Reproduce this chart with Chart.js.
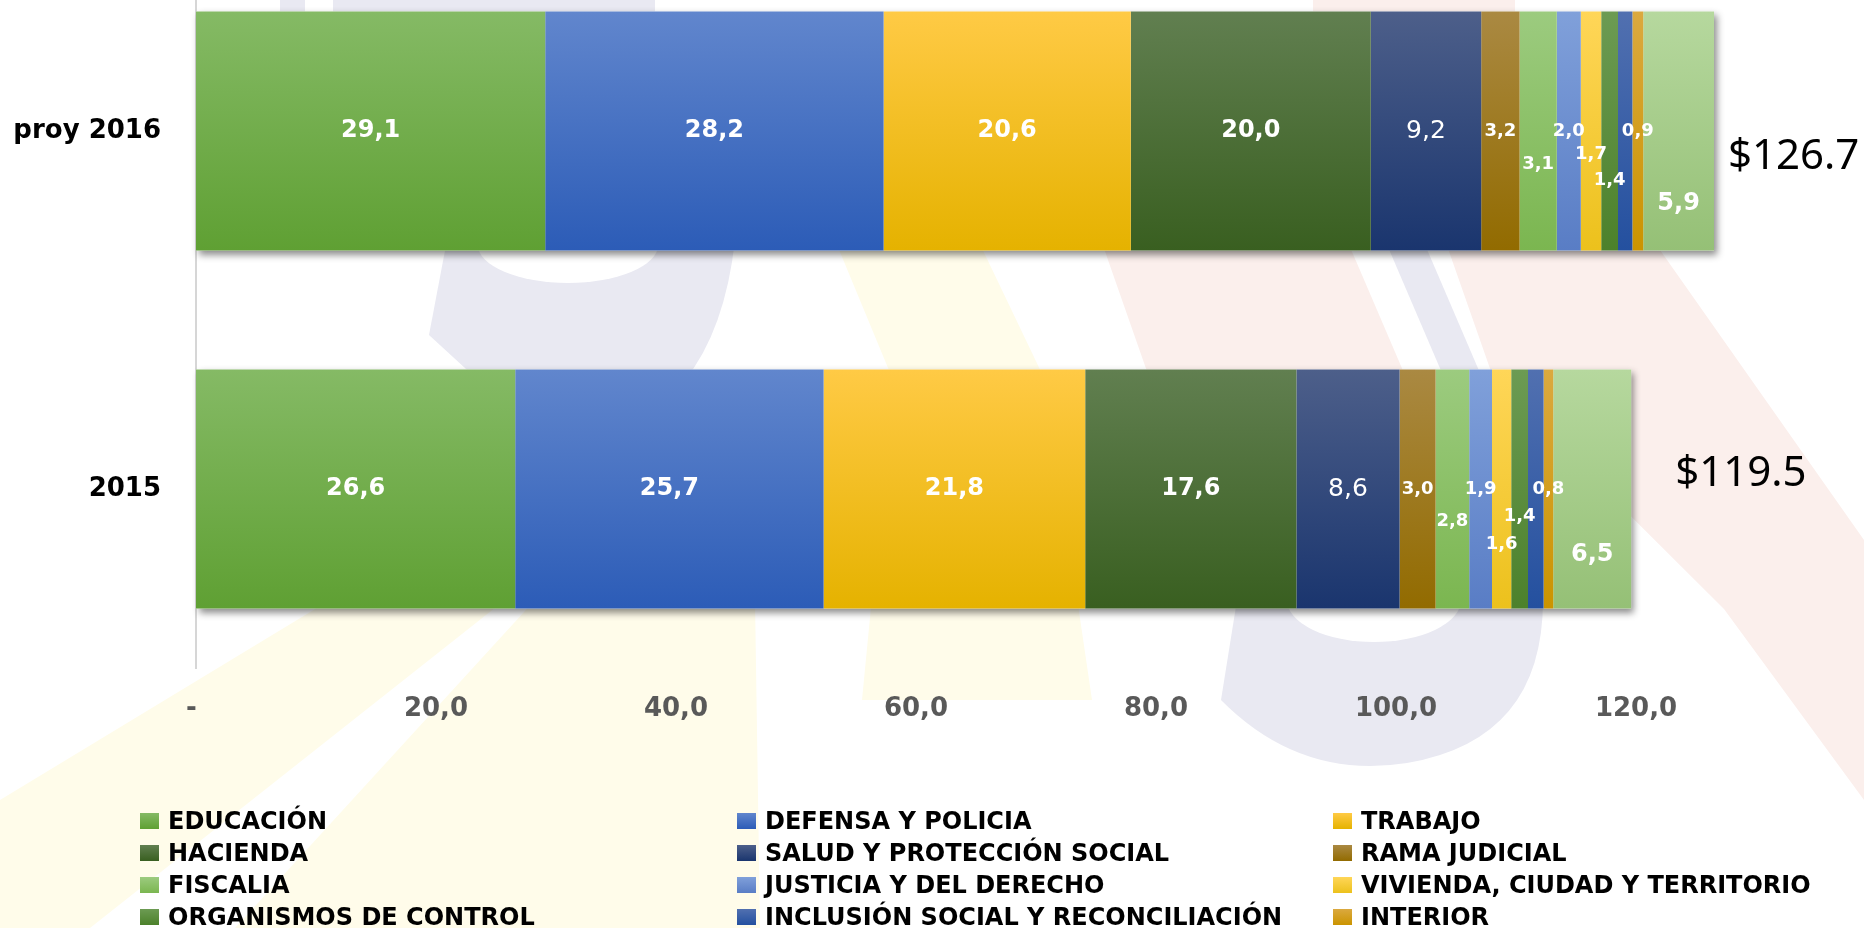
<!DOCTYPE html>
<html lang="es">
<head>
<meta charset="utf-8">
<title>Presupuesto por sector</title>
<script src="https://cdn.jsdelivr.net/npm/chart.js@4.4.1/dist/chart.umd.min.js"></script>
<style>
    html, body { margin: 0; padding: 0; background: #fff; }
    body { width: 1864px; height: 928px; position: relative; overflow: hidden; }
    #chartBox { position: absolute; left: 0; top: -48px; width: 1864px; height: 976px; }
    #legend {
        position: absolute; left: 140px; top: 805px;
        display: grid; grid-template-columns: 597px 596px auto; grid-auto-rows: 32px;
        font-family: 'DejaVu Sans', sans-serif; font-weight: bold; font-size: 24px; color: #000;
    }
    .item { display: flex; align-items: center; white-space: nowrap; }
    .box { width: 19px; height: 16px; margin-right: 9px; }
</style>
</head>
<body>
<div id="chartBox"><canvas id="barChart" width="1864" height="976"></canvas></div>
<div id="legend"></div>

<script>
// datos
const categorias = ['proy 2016', '2015'];
const sectores = [
    'EDUCACIÓN', 'DEFENSA Y POLICIA', 'TRABAJO',
    'HACIENDA', 'SALUD Y PROTECCIÓN SOCIAL', 'RAMA JUDICIAL',
    'FISCALIA', 'JUSTICIA Y DEL DERECHO', 'VIVIENDA, CIUDAD Y TERRITORIO',
    'ORGANISMOS DE CONTROL', 'INCLUSIÓN SOCIAL Y RECONCILIACIÓN', 'INTERIOR',
    'OTROS'
];
const valores2016 = [29.1, 28.2, 20.6, 20.0, 9.2, 3.2, 3.1, 2.0, 1.7, 1.4, 1.2, 0.9, 5.9];
const valores2015 = [26.6, 25.7, 21.8, 17.6, 8.6, 3.0, 2.8, 1.9, 1.6, 1.4, 1.3, 0.8, 6.5];
const totales = ['$126.7', '$119.5'];
const ticksX = [0, 20, 40, 60, 80, 100, 120];

// colores (arriba, abajo) de cada sector
const colorArriba = ['#85ba65', '#6186cd', '#ffca45', '#617f50', '#4d5f8a', '#aa8942', '#9ccb7f', '#80a0da', '#ffd658', '#6c9b53', '#5170b0', '#dba93f', '#b6d89e'];
const colorAbajo  = ['#5fa033', '#2c5cb7', '#e5b200', '#395f20', '#1a356e', '#926b00', '#7bb650', '#597dc5', '#ecc11c', '#4c812b', '#24509f', '#cb9400', '#95c076'];

// estilo de etiquetas: desplazamiento vertical (null = sin etiqueta)
const etiquetaDy = [
    [0, 0, 0, 0, 0, 0, 33, 0, 23, 49, null, 0, 73],
    [0, 0, 0, 0, 0, 0, 32, 0, 55, 27, null, 0, 66]
];
const etiquetaFont = ['bold 24px', 'bold 24px', 'bold 24px', 'bold 24px', '25px',
    'bold 18px', 'bold 18px', 'bold 18px', 'bold 18px', 'bold 18px', 'bold 18px', 'bold 18px', 'bold 24px'];
const totalPos = [{dx: 14, dy: 26}, {dx: 44, dy: -15}];

const FUENTE = "'DejaVu Sans', sans-serif";

function degradado(i) {
    return function(context) {
        const chart = context.chart;
        const area = chart.chartArea;
        if (!area) return colorArriba[i];
        const y = chart.scales.y;
        const centro = y.getPixelForValue(context.dataIndex);
        const mitad = (area.bottom - area.top) / categorias.length * 0.668 / 2;
        const g = chart.ctx.createLinearGradient(0, centro - mitad, 0, centro + mitad);
        g.addColorStop(0, colorArriba[i]);
        g.addColorStop(1, colorAbajo[i]);
        return g;
    };
}

const datasets = sectores.map(function(nombre, i) {
    return {
        label: nombre,
        data: [valores2016[i], valores2015[i]],
        backgroundColor: degradado(i),
        borderWidth: 0,
        barPercentage: 0.668,
        categoryPercentage: 1
    };
});

function poligono(ctx, color, puntos) {
    ctx.fillStyle = color;
    ctx.beginPath();
    puntos.forEach(function(p, k) {
        if (k === 0) ctx.moveTo(p[0], p[1]); else ctx.lineTo(p[0], p[1]);
    });
    ctx.closePath();
    ctx.fill();
}

// marca de agua de fondo (coordenadas de la página)
const fondoPlugin = {
    id: 'fondo',
    beforeDraw(chart) {
        const ctx = chart.ctx;
        const lav = '#e9e9f2', ama = '#fffcea', ros = '#fbefec';
        ctx.save();
        ctx.translate(0, 48);
        // franja superior
        poligono(ctx, lav, [[280, -48], [305, -48], [305, 20], [280, 20]]);
        poligono(ctx, lav, [[333, -48], [655, -48], [655, 20], [333, 20]]);
        poligono(ctx, ros, [[1313, -48], [1515, -48], [1515, 20], [1313, 20]]);
        // amarillo
        poligono(ctx, ama, [[835, 240], [978, 240], [1045, 380], [1092, 700], [862, 700], [893, 380]]);
        poligono(ctx, ama, [[330, 600], [505, 600], [90, 928], [0, 928], [0, 800]]);
        poligono(ctx, ama, [[535, 600], [755, 600], [760, 928], [235, 928]]);
        // rosado
        poligono(ctx, ros, [[1101, 240], [1347, 240], [1407, 380], [1150, 380]]);
        poligono(ctx, ros, [[1445, 240], [1653, 240], [1864, 540], [1864, 800], [1724, 609], [1494, 380]]);
        // lavanda
        poligono(ctx, lav, [[1385, 240], [1423, 240], [1483, 380], [1445, 380]]);
        ctx.fillStyle = lav;
        ctx.beginPath();
        ctx.moveTo(447, 240);
        ctx.lineTo(735, 240);
        ctx.quadraticCurveTo(725, 330, 685, 380);
        ctx.lineTo(478, 380);
        ctx.lineTo(429, 335);
        ctx.closePath();
        ctx.fill();
        ctx.beginPath();
        ctx.moveTo(1237, 600);
        ctx.lineTo(1221, 700);
        ctx.quadraticCurveTo(1300, 780, 1407, 763);
        ctx.quadraticCurveTo(1543, 740, 1543, 600);
        ctx.closePath();
        ctx.fill();
        ctx.fillStyle = '#ffffff';
        ctx.beginPath();
        ctx.ellipse(568, 245, 90, 38, 0, 0, Math.PI * 2);
        ctx.fill();
        ctx.beginPath();
        ctx.ellipse(1374, 600, 87, 42, 0, 0, Math.PI * 2);
        ctx.fill();
        ctx.restore();
    }
};

// sombra bajo cada barra apilada
const sombraPlugin = {
    id: 'sombra',
    beforeDatasetsDraw(chart) {
        const ctx = chart.ctx;
        const primero = chart.getDatasetMeta(0);
        const ultimo = chart.getDatasetMeta(chart.data.datasets.length - 1);
        ctx.save();
        ctx.shadowColor = 'rgba(0, 0, 0, 0.45)';
        ctx.shadowBlur = 7;
        ctx.shadowOffsetX = 3;
        ctx.shadowOffsetY = 4;
        ctx.fillStyle = '#ffffff';
        primero.data.forEach(function(el, i) {
            const fin = ultimo.data[i];
            ctx.fillRect(el.base, el.y - el.height / 2, fin.x - el.base, el.height);
        });
        ctx.restore();
    }
};

// etiquetas de valores y totales
const etiquetasPlugin = {
    id: 'etiquetas',
    afterDatasetsDraw(chart) {
        const ctx = chart.ctx;
        ctx.save();
        ctx.textAlign = 'center';
        ctx.textBaseline = 'middle';
        ctx.fillStyle = '#ffffff';
        chart.data.datasets.forEach(function(ds, d) {
            const meta = chart.getDatasetMeta(d);
            meta.data.forEach(function(el, i) {
                const dy = etiquetaDy[i][d];
                if (dy === null) return;
                const cx = (el.x + el.base) / 2;
                ctx.font = etiquetaFont[d] + ' ' + FUENTE;
                ctx.fillText(ds.data[i].toFixed(1).replace('.', ','), cx, el.y + dy);
            });
        });
        const ultimo = chart.getDatasetMeta(chart.data.datasets.length - 1);
        ctx.textAlign = 'left';
        ctx.fillStyle = '#000000';
        ctx.font = "42px 'Noto Sans', sans-serif";
        ultimo.data.forEach(function(el, i) {
            ctx.fillText(totales[i], el.x + totalPos[i].dx, el.y + totalPos[i].dy);
        });
        ctx.restore();
    }
};

const chart = new Chart(document.getElementById('barChart'), {
    type: 'bar',
    data: { labels: categorias, datasets: datasets },
    options: {
        indexAxis: 'y',
        responsive: false,
        animation: false,
        layout: { padding: 0 },
        plugins: {
            legend: { display: false },
            tooltip: { enabled: false }
        },
        scales: {
            x: {
                stacked: true,
                min: 0,
                max: 139,
                grid: { display: false, drawTicks: false },
                border: { display: false },
                afterBuildTicks: function(scale) {
                    scale.ticks = ticksX.map(function(v) { return { value: v }; });
                },
                afterFit: function(scale) {
                    scale.height = 260;
                    scale.paddingLeft = 0;
                    scale.paddingRight = 0;
                },
                ticks: {
                    autoSkip: false,
                    maxRotation: 0,
                    padding: 26,
                    color: '#595959',
                    font: { family: 'DejaVu Sans', weight: 'bold', size: 26 },
                    callback: function(v) {
                        return v === 0 ? '- ' : v.toFixed(1).replace('.', ',');
                    }
                }
            },
            y: {
                stacked: true,
                grid: { display: false, drawTicks: false },
                border: { display: true, color: '#d6d6d6', width: 2 },
                afterFit: function(scale) {
                    scale.width = 196;
                    scale.paddingTop = 0;
                    scale.paddingBottom = 0;
                },
                ticks: {
                    padding: 35,
                    color: '#000000',
                    font: { family: 'DejaVu Sans', weight: 'bold', size: 26 }
                }
            }
        }
    },
    plugins: [fondoPlugin, sombraPlugin, etiquetasPlugin]
});

// leyenda en tres columnas
const leyenda = document.getElementById('legend');
sectores.slice(0, 12).forEach(function(nombre, i) {
    const item = document.createElement('div');
    item.className = 'item';
    const box = document.createElement('span');
    box.className = 'box';
    box.style.background = 'linear-gradient(' + colorArriba[i] + ', ' + colorAbajo[i] + ')';
    item.appendChild(box);
    item.appendChild(document.createTextNode(nombre));
    leyenda.appendChild(item);
});
</script>
</body>
</html>
